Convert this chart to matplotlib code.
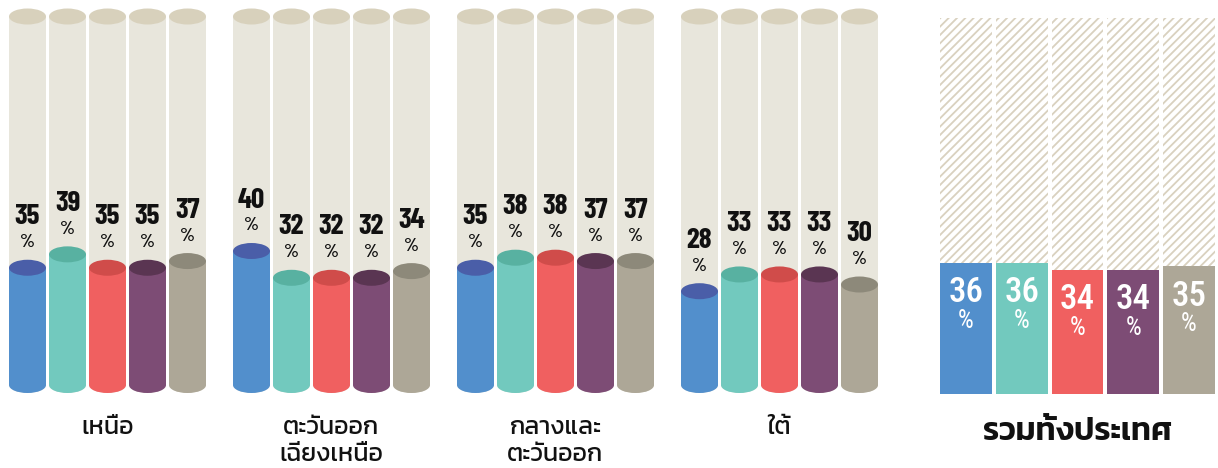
import numpy as np
import matplotlib
matplotlib.use("Agg")
import matplotlib.pyplot as plt
from matplotlib import font_manager
from matplotlib.patches import Ellipse, Rectangle

# data
regions = ["เหนือ", "ตะวันออก\nเฉียงเหนือ", "กลางและ\nตะวันออก", "ใต้"]
north = [35, 39, 35, 35, 37]
northeast = [40, 32, 32, 32, 34]
central_east = [35, 38, 38, 37, 37]
south = [28, 33, 33, 33, 30]
national = [36, 36, 34, 34, 35]
national_label = "รวมทั้งประเทศ"

body_colors = ["#528fcc", "#72c9be", "#f06060", "#7d4c75", "#ada797"]
top_colors = ["#4a5ea8", "#58b1a1", "#d04c4a", "#5a3552", "#8d897a"]
bg_body = "#e8e6dc"
bg_top = "#d8d1bc"

installed = {f.name for f in font_manager.fontManager.ttflist}


def pick(*names):
    for n in names:
        if n in installed:
            return n
    return "DejaVu Sans"


thai_font = pick("Kanit", "Prompt", "Mitr", "Sarabun", "Noto Sans Thai Looped", "Noto Sans Thai")
num_font = pick("Barlow Condensed", "Roboto Condensed", "Oswald", "Asap Condensed")
white_font = pick("Roboto Condensed", "Barlow Condensed", "Oswald", "Asap Condensed")

fig = plt.figure(figsize=(12.18, 4.68), dpi=100)

# ---- regional cylinders ----
scale = 3.35  # px per percent
ax = fig.add_axes([0, 0, 910 / 1218, 1])
ax.set_xlim(-27.5 / 40, (910 - 27.5) / 40)
ax.set_ylim((385 - 468) / scale, 385 / scale)
ax.axis("off")

bar_w = 0.925
ell_h = 16 / scale
bg_val = 110
group_gap = 5.6

all_values = [north, northeast, central_east, south]
for g, vals in enumerate(all_values):
    for i, v in enumerate(vals):
        x = g * group_gap + i
        # background cylinder
        ax.add_patch(Ellipse((x, 0), bar_w, ell_h, color=bg_body, lw=0))
        ax.add_patch(Rectangle((x - bar_w / 2, 0), bar_w, bg_val, color=bg_body, lw=0))
        ax.add_patch(Ellipse((x, bg_val), bar_w, ell_h, color=bg_top, lw=0))
        # value cylinder
        ax.add_patch(Ellipse((x, 0), bar_w, ell_h, color=body_colors[i], lw=0))
        ax.add_patch(Rectangle((x - bar_w / 2, 0), bar_w, v, color=body_colors[i], lw=0))
        ax.add_patch(Ellipse((x, v), bar_w, ell_h, color=top_colors[i], lw=0))
        ax.text(x, v + 51 / scale, str(v), ha="center", va="center", fontsize=21,
                fontweight="bold", family=num_font, color="#111111")
        ax.text(x, v + 25 / scale, "%", ha="center", va="center", fontsize=14,
                fontweight="semibold", family=num_font, color="#111111")
    ax.text(g * group_gap + 2, (385 - 417) / scale, regions[g], ha="center", va="top",
            fontsize=18, fontweight="normal", family=[thai_font, "DejaVu Sans"],
            linespacing=1.3, color="#111111")

# ---- national bars ----
plt.rcParams["hatch.linewidth"] = 1.3
nscale = 3.65
ax2 = fig.add_axes([920 / 1218, 0, 298 / 1218, 1])
pitch = 55.75
ax2.set_xlim(-46 / pitch, (1218 - 966) / pitch)
ax2.set_ylim((394 - 468) / nscale, 394 / nscale)
ax2.axis("off")

xs = np.arange(len(national))
ax2.bar(xs, [103] * len(national), width=0.93, facecolor="white",
        edgecolor="#d9d1bf", hatch="////", linewidth=0)
ax2.bar(xs, national, width=0.93, color=body_colors, linewidth=0)
for x, v in zip(xs, national):
    ax2.text(x, v - 30 / nscale, str(v), ha="center", va="center", fontsize=25,
             family=white_font, color="white", fontweight="medium")
    ax2.text(x, v - 58 / nscale, "%", ha="center", va="center", fontsize=18,
             family=white_font, color="white")
ax2.text(2, (394 - 432) / nscale, national_label, ha="center", va="center",
         fontsize=23, fontweight="semibold", family=[thai_font, "DejaVu Sans"],
         color="#111111")

fig.savefig("out.png", dpi=100)
